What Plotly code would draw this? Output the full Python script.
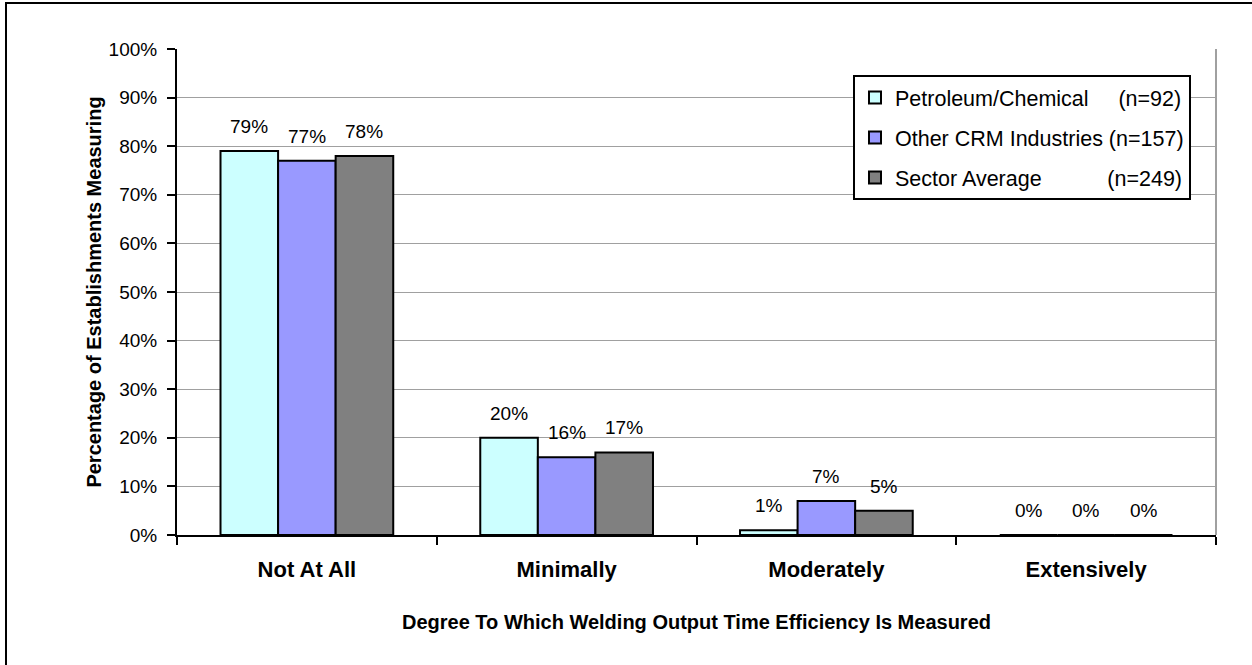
import plotly.graph_objects as go

categories = ["Not At All", "Minimally", "Moderately", "Extensively"]
series_names = ["Petroleum/Chemical", "Other CRM Industries", "Sector Average"]
series_n = ["(n=92)", "(n=157)", "(n=249)"]
petroleum = [79, 20, 1, 0]
other_crm = [77, 16, 7, 0]
sector_avg = [78, 17, 5, 0]
y_ticks = list(range(0, 101, 10))
y_tick_labels = [f"{v}%" for v in y_ticks]

series_values = [petroleum, other_crm, sector_avg]
colors = ["#CCFFFF", "#9999FF", "#808080"]
# padding so the (n=..) parts line up on the right, as in the original legend
pads = [5, 1, 11]

FONT = "Liberation Sans, Arial, sans-serif"
BARGAP = 0.335

fig = go.Figure()
for j, (name, nlab, vals, col, pad) in enumerate(zip(series_names, series_n, series_values, colors, pads)):
    fig.add_trace(go.Bar(
        x=categories, y=vals,
        name=name + "\u00a0" * pad + nlab,
        legendgroup=f"g{j}",
        marker=dict(color=col, line=dict(color="black", width=2)),
        hoverinfo="skip",
    ))

# value labels above bars
w = (1 - BARGAP) / 3
for j, vals in enumerate(series_values):
    for i, v in enumerate(vals):
        fig.add_annotation(
            x=i + (j - 1) * w, y=v, xref="x", yref="y",
            text=f"{v}%", showarrow=False, yanchor="bottom", yshift=12,
            font=dict(family=FONT, size=19, color="black"),
        )

x0, x1 = 177, 1216
y0, y1 = 49, 535
W, H = 1252, 665

fig.update_layout(
    width=W, height=H,
    margin=dict(l=x0, r=W - x1, t=y0, b=H - y1),
    paper_bgcolor="white", plot_bgcolor="white",
    barmode="group", bargap=BARGAP, bargroupgap=0,
    font=dict(family=FONT, color="black"),
    showlegend=True,
    legend=dict(
        x=(853 - x0) / (x1 - x0), y=(y1 - 75) / (y1 - y0),
        xanchor="left", yanchor="top",
        bgcolor="white", bordercolor="black", borderwidth=2,
        font=dict(family=FONT, size=21.5, color="black"),
        tracegroupgap=9,
    ),
    xaxis=dict(
        type="category",
        showline=True, linecolor="black", linewidth=2,
        ticks="outside", ticklen=8, tickwidth=2, tickcolor="black",
        tickson="boundaries",
        tickfont=dict(family=FONT, size=22, color="black", weight="bold"),
        ticklabelstandoff=14,
        title=dict(text="<b>Degree To Which Welding Output Time Efficiency Is Measured</b>",
                   font=dict(family=FONT, size=20, color="black"), standoff=34),
        showgrid=False,
    ),
    yaxis=dict(
        range=[0, 100],
        tickvals=y_ticks, ticktext=y_tick_labels,
        showline=True, linecolor="black", linewidth=2,
        ticks="outside", ticklen=8, tickwidth=2, tickcolor="black",
        tickfont=dict(family=FONT, size=19, color="black"),
        ticklabelstandoff=6,
        showgrid=True, gridcolor="#A0A0A0", gridwidth=1,
        zeroline=False,
        title=dict(text="<b>Percentage of Establishments Measuring</b>",
                   font=dict(family=FONT, size=20, color="black"), standoff=2),
    ),
)

# plot-area right border (gray) and outer chart frame
fig.add_shape(type="line", xref="x domain", yref="y domain", x0=1, x1=1, y0=0, y1=1,
              line=dict(color="#A0A0A0", width=2))
fx = lambda px: (px - x0) / (x1 - x0)
fy = lambda py: (y1 - py) / (y1 - y0)
fig.add_shape(type="line", xref="paper", yref="paper",
              x0=fx(5), x1=fx(W + 10), y0=fy(3), y1=fy(3),
              line=dict(color="black", width=2))
fig.add_shape(type="line", xref="paper", yref="paper",
              x0=fx(6), x1=fx(6), y0=fy(3), y1=fy(H + 10),
              line=dict(color="black", width=2))

fig.write_html("out.html", config={"displayModeBar": False},
               post_script="document.body.style.margin='0';")
